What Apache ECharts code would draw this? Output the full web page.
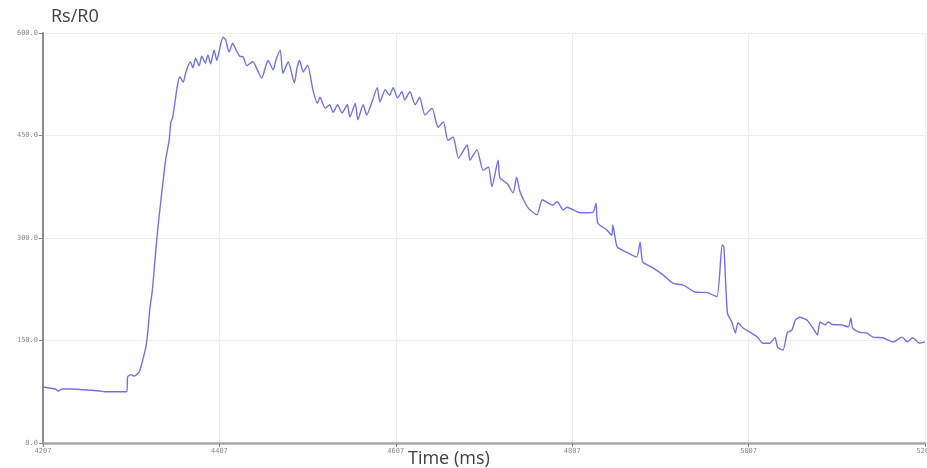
<!DOCTYPE html>
<html>
<head>
<meta charset="utf-8">
<script src="https://cdn.jsdelivr.net/npm/echarts@6/dist/echarts.min.js"></script>
<style>
html,body{margin:0;padding:0;background:#fff;}
#chart{width:927px;height:468px;}
</style>
</head>
<body>
<div id="chart"></div>
<script>
// Time axis start (ms) and tick labels step
const timeStart = 4207;
const timeEnd = 5207;
const timeStep = 200;
const yTicks = [0, 150, 300, 450, 600];

// Time samples (ms)
const timeMs = [
4207,4221,4224,4229,4238,4272,4277,4302,4303,4307,4310,4314,4317,4320,4324,4326,4328,4331,4334,4337,
4342,4346,4350,4352,4354,4357,4359,4362,4366,4369,4374,4377,4380,4384,4387,4391,4394,4397,4401,4404,
4408,4411,4414,4418,4422,4426,4430,4434,4438,4442,4445,4450,4455,4459,4462,4468,4471,4476,4479,4485,
4492,4495,4498,4502,4507,4513,4518,4521,4527,4532,4536,4541,4546,4552,4555,4561,4564,4570,4574,4580,
4586,4589,4595,4600,4604,4609,4614,4617,4623,4629,4634,4640,4648,4655,4661,4666,4672,4678,4688,4691,
4699,4706,4712,4716,4723,4725,4733,4740,4744,4748,4757,4767,4773,4780,4785,4790,4797,4801,4816,4824,
4831,4834,4836,4846,4852,4853,4858,4869,4880,4884,4887,4899,4910,4921,4933,4946,4960,4971,4977,4979,
4983,4988,4992,4995,5001,5009,5017,5023,5031,5037,5040,5046,5051,5056,5060,5065,5073,5080,5085,5088,
5094,5097,5103,5111,5120,5123,5125,5133,5141,5148,5159,5171,5181,5187,5193,5201,5207
];
// Rs/R0 values
const rsR0 = [
82,79,76,79,79,76,75,75,97,100,98,101,107,121,143,165,195,224,268,312,
370,414,443,470,476,502,520,536,528,543,558,549,563,552,566,556,568,555,575,560,
581,594,590,572,585,575,566,565,552,556,558,546,534,549,560,546,560,575,541,558,
527,549,560,543,553,517,497,506,490,495,484,495,483,495,477,497,473,495,480,499,
520,499,517,509,520,505,514,502,514,495,506,480,490,462,470,443,448,417,436,414,
429,399,404,375,414,388,380,366,389,367,344,334,356,351,348,353,341,345,337,337,
338,351,322,312,304,319,287,279,272,294,265,256,246,234,231,221,220,214,290,287,
190,177,161,176,168,162,155,146,146,154,140,136,162,165,180,184,180,168,158,177,
173,177,173,173,170,183,168,162,161,155,154,148,155,148,154,146,148
];

const seriesData = timeMs.map((t, i) => [t - timeStart, rsR0[i]]);

const chart = echarts.init(document.getElementById('chart'), null, {renderer: 'canvas'});
chart.setOption({
  animation: false,
  backgroundColor: '#ffffff',
  grid: {left: 43, right: 2, top: 33, bottom: 25, containLabel: false, outerBoundsMode: 'none'},
  graphic: [
    {type: 'text', left: 51, top: 8, style: {text: 'Rs/R0', fontSize: 18, fontFamily: 'Open Sans', fill: '#404040'}},
    {type: 'text', left: 408, top: 450, style: {text: 'Time (ms)', fontSize: 18, fontFamily: 'Open Sans', fill: '#404040'}}
  ],
  xAxis: {
    type: 'value',
    min: 0,
    max: timeEnd - timeStart,
    interval: timeStep,
    axisLine: {show: true, onZero: false, lineStyle: {color: '#a8a8a8', width: 2.5}},
    axisTick: {show: true, length: 4, lineStyle: {color: '#888'}},
    axisLabel: {
      fontSize: 7, fontFamily: 'DejaVu Sans Mono', color: '#888', margin: 5,
      formatter: v => String(v + timeStart)
    },
    splitLine: {show: true, lineStyle: {color: '#eeeeee', width: 1}}
  },
  yAxis: {
    type: 'value',
    min: yTicks[0],
    max: yTicks[yTicks.length - 1],
    interval: yTicks[1] - yTicks[0],
    axisLine: {show: true, lineStyle: {color: '#8c8c8c', width: 2}},
    axisTick: {show: true, length: 4, lineStyle: {color: '#888'}},
    axisLabel: {
      fontSize: 7, fontFamily: 'DejaVu Sans Mono', color: '#888', margin: 5,
      formatter: v => v.toFixed(1)
    },
    splitLine: {show: true, lineStyle: {color: '#eeeeee', width: 1}}
  },
  series: [{
    type: 'line',
    data: seriesData,
    showSymbol: false,
    symbol: 'none',
    smooth: 0.2,
    lineStyle: {color: '#7272e8', width: 1.4}
  }]
});
</script>
</body>
</html>
